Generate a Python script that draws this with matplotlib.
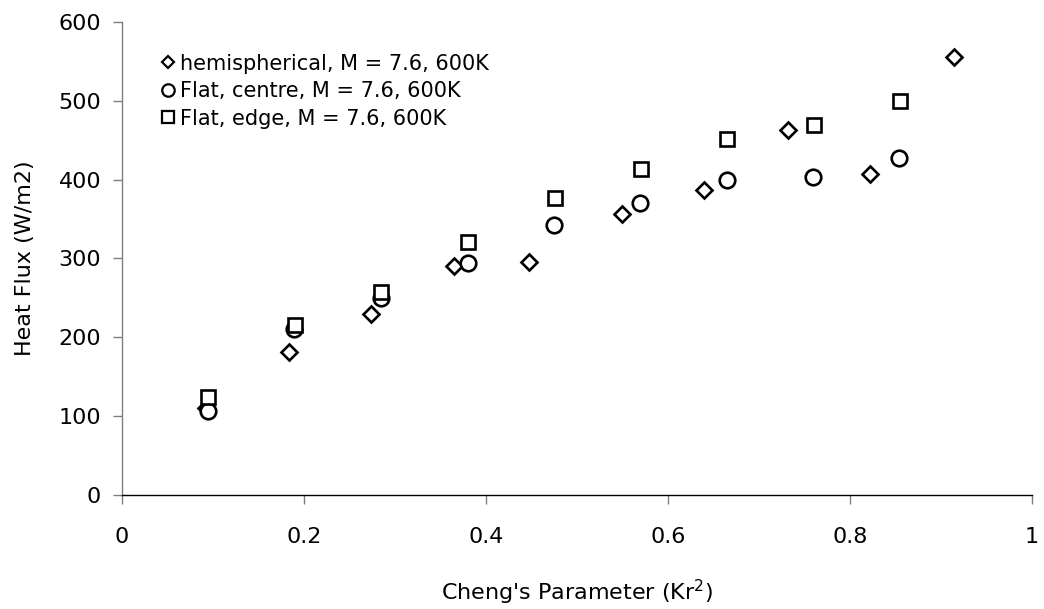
import matplotlib
matplotlib.use("Agg")
import matplotlib.pyplot as plt

# Cheng's parameter (Kr^2) and measured heat flux (W/m2)
hemi_x = [0.092, 0.183, 0.274, 0.365, 0.447, 0.549, 0.640, 0.732, 0.822, 0.914]
hemi_y = [110, 181, 229, 290, 296, 357, 387, 463, 407, 556]

centre_x = [0.094, 0.189, 0.285, 0.380, 0.475, 0.569, 0.665, 0.759, 0.854]
centre_y = [107, 210, 250, 294, 343, 371, 400, 404, 427]

edge_x = [0.095, 0.190, 0.285, 0.380, 0.476, 0.570, 0.665, 0.760, 0.855]
edge_y = [124, 215, 257, 321, 377, 413, 452, 469, 500]

labels = ["hemispherical, M = 7.6, 600K",
          "Flat, centre, M = 7.6, 600K",
          "Flat, edge, M = 7.6, 600K"]

x_ticks = [0, 0.2, 0.4, 0.6, 0.8, 1]
x_tick_labels = ["0", "0.2", "0.4", "0.6", "0.8", "1"]
y_ticks = [0, 100, 200, 300, 400, 500, 600]

plt.rcParams["font.family"] = ["DejaVu Sans"]

fig = plt.figure(figsize=(10.44, 6.09), dpi=100)
ax = fig.add_axes([0.1169, 0.1872, 0.8716, 0.7767])

common = dict(linestyle="none", markerfacecolor="white", markeredgecolor="black",
              markeredgewidth=1.9, clip_on=False)
ax.plot(hemi_x, hemi_y, marker="D", markersize=8.0, label=labels[0], **common)
ax.plot(centre_x, centre_y, marker="o", markersize=11.2, label=labels[1], **common)
ax.plot(edge_x, edge_y, marker="s", markersize=10.0, label=labels[2], **common)

ax.set_xlim(0, 1)
ax.set_ylim(0, 600)
ax.set_xticks(x_ticks)
ax.set_xticklabels(x_tick_labels)
ax.set_yticks(y_ticks)

for side in ("top", "right"):
    ax.spines[side].set_visible(False)
ax.spines["left"].set_color("#7f7f7f")
ax.spines["left"].set_linewidth(1.0)
ax.spines["bottom"].set_color("black")
ax.spines["bottom"].set_linewidth(1.0)

ax.tick_params(axis="both", direction="out", length=6.5, width=1.0,
               color="#7f7f7f", labelsize=16, labelcolor="black")
ax.tick_params(axis="x", pad=16.5)
ax.tick_params(axis="y", pad=8.5)

ax.set_xlabel("Cheng's Parameter (Kr$^2$)", fontsize=16, labelpad=22)
ax.set_ylabel("Heat Flux (W/m2)", fontsize=16, labelpad=17)

leg = ax.legend(loc="upper left", bbox_to_anchor=(0.1546, 0.912),
                bbox_transform=fig.transFigure, frameon=False,
                fontsize=15, markerscale=0.8, handlelength=0.6,
                handletextpad=0.3, labelspacing=0.36, borderpad=0,
                borderaxespad=0)
for h in leg.legend_handles:
    h.set_markeredgewidth(1.6)

fig.savefig("out.png", dpi=100, facecolor="white")
